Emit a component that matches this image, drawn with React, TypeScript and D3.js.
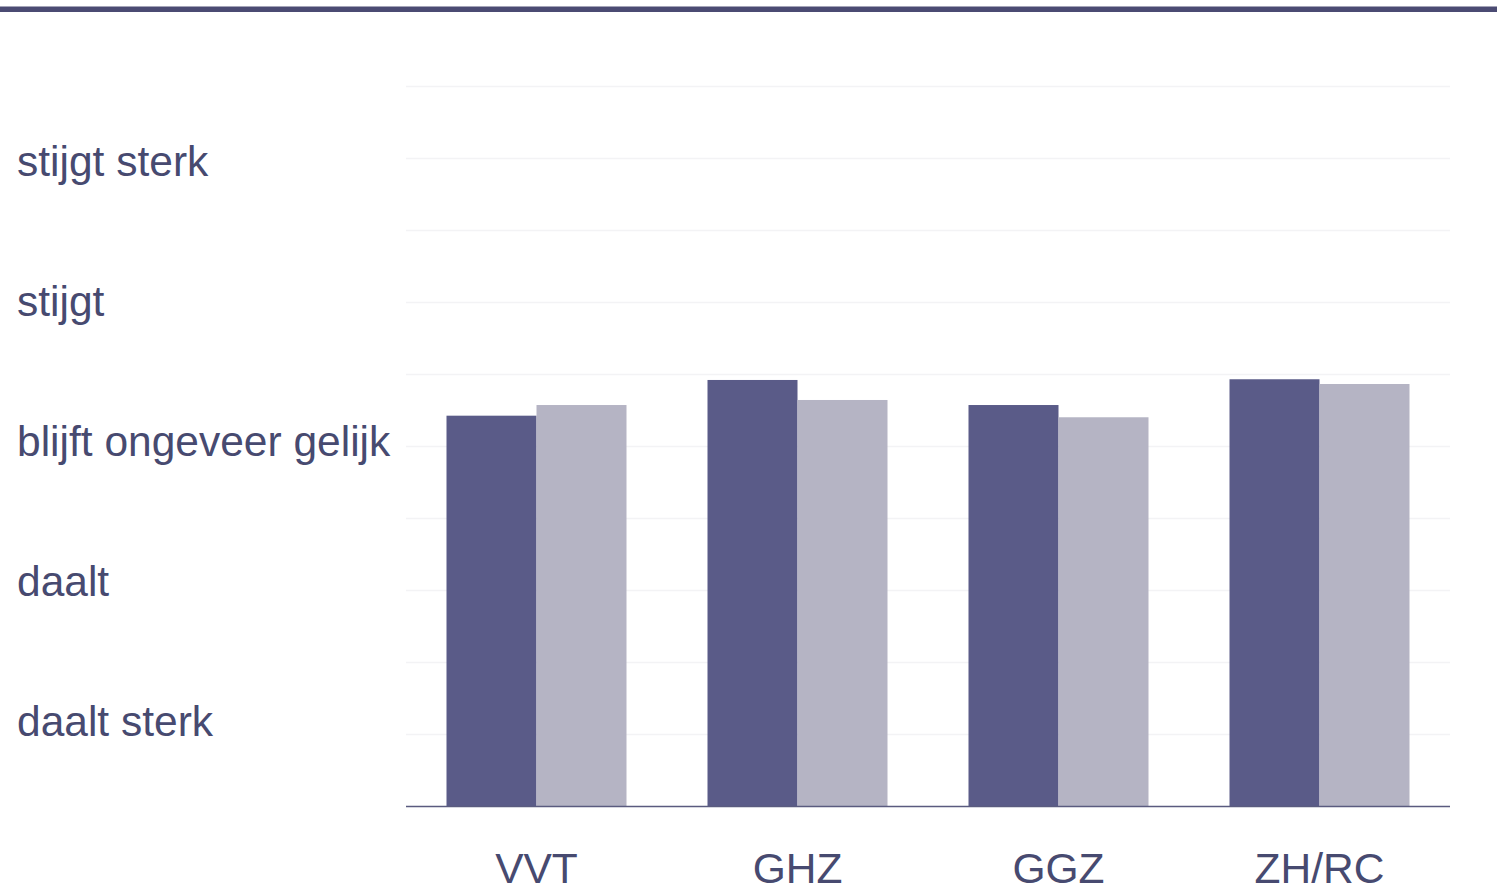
import React from "react";
import * as d3 from "d3";

const categories = ["VVT", "GHZ", "GGZ", "ZH/RC"];
const seriesNames = ["reeks 1", "reeks 2"];
const series1 = [2.714, 2.962, 2.788, 2.967];
const series2 = [2.788, 2.823, 2.703, 2.934];
const yLabels = ["daalt sterk", "daalt", "blijft ongeveer gelijk", "stijgt", "stijgt sterk"];
const gridValues = [0, 0.5, 1, 1.5, 2, 2.5, 3, 3.5, 4, 4.5, 5];

const W = 1498;
const H = 894;
const left = 406;
const right = 1450;
const top = 86.5;
const bottom = 806.5;
const textColor = "#474a70";
const colors = ["#5a5b88", "#b5b4c4"];
const font = "'Liberation Sans', Arial, Helvetica, sans-serif";

export default function App() {
  const x = d3.scaleBand<string>().domain(categories).range([left, right]).paddingInner(0).paddingOuter(0);
  const bandPad = 40.5;
  const xInner = d3
    .scaleBand<string>()
    .domain(seriesNames)
    .range([bandPad, x.bandwidth() - bandPad]);
  const y = d3.scaleLinear().domain([0, 5]).range([bottom, top]);
  const yLab = d3.scalePoint<string>().domain(yLabels).range([735.5, 176]);
  const data = [series1, series2];

  return (
    <svg
      width={W}
      height={H}
      style={{ position: "absolute", left: 0, top: 0, background: "#fff" }}
      fontFamily={font}
    >
      <rect x={0} y={6.5} width={1497} height={5.5} fill="#4b4b73" />
      {gridValues.slice(1).map((v) => (
        <line key={v} x1={left} x2={right} y1={y(v)} y2={y(v)} stroke="#f3f3f5" strokeWidth={1.5} />
      ))}
      {categories.map((c, i) =>
        data.map((s, j) => (
          <rect
            key={c + j}
            x={(x(c) as number) + (xInner(seriesNames[j]) as number)}
            y={y(s[i])}
            width={xInner.bandwidth()}
            height={bottom - y(s[i])}
            fill={colors[j]}
          />
        ))
      )}
      <line x1={left} x2={right} y1={bottom} y2={bottom} stroke="#5a5b7f" strokeWidth={1.5} />
      {categories.map((c) => (
        <text
          key={c}
          x={(x(c) as number) + x.bandwidth() / 2}
          y={883}
          textAnchor="middle"
          fontSize={42.5}
          fill={textColor}
        >
          {c}
        </text>
      ))}
      {yLabels.map((l) => (
        <text key={l} x={17} y={yLab(l)} fontSize={42.5} fill={textColor}>
          {l}
        </text>
      ))}
    </svg>
  );
}
